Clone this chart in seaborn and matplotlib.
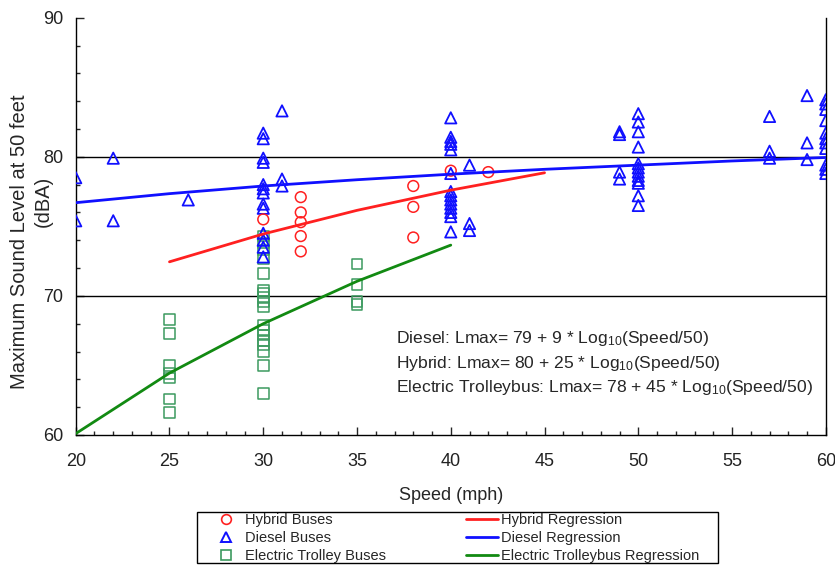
import numpy as np
import pandas as pd
import seaborn as sns
from matplotlib import pyplot as plt
from matplotlib.ticker import MultipleLocator
from matplotlib.lines import Line2D
from matplotlib.patches import Rectangle

hybrid_speed = [30, 32, 32, 32, 32, 32, 38, 38, 38, 40, 42]
hybrid_level = [75.5, 77.1, 76.0, 75.3, 74.3, 73.2, 77.9, 76.4, 74.2, 79.0, 78.9]

diesel_speed = ([20] * 2 + [22] * 2 + [26] + [30] * 13 + [31] * 3 + [40] * 14 + [41] * 3
                + [49] * 4 + [50] * 12 + [57] * 3 + [59] * 3 + [60] * 11)
diesel_level = [78.5, 75.4,
                79.9, 75.4,
                76.9,
                81.7, 81.3, 79.9, 79.6, 78.0, 77.7, 77.4, 76.6, 76.3, 74.5, 74.0, 73.5, 72.8,
                83.3, 78.4, 77.9,
                82.8, 81.4, 81.1, 80.9, 80.5, 78.8, 77.5, 77.2, 76.9, 76.6, 76.3, 76.0, 75.7, 74.6,
                79.4, 75.2, 74.7,
                81.8, 81.6, 78.9, 78.4,
                83.1, 82.5, 81.8, 80.7, 79.5, 79.2, 78.9, 78.6, 78.3, 78.1, 77.2, 76.5,
                82.9, 80.4, 79.9,
                84.4, 81.0, 79.8,
                84.1, 83.8, 83.4, 82.6, 81.7, 81.3, 81.0, 80.6, 79.4, 79.1, 78.8]

trolley_speed = [25] * 7 + [30] * 18 + [35] * 4
trolley_level = [68.3, 67.3, 65.0, 64.4, 64.1, 62.6, 61.6,
                 74.3, 73.8, 73.3, 72.7, 71.6, 70.4, 70.2, 69.9, 69.6, 69.2,
                 67.9, 67.5, 67.2, 66.8, 66.5, 66.0, 65.0, 63.0,
                 72.3, 70.8, 69.6, 69.4]

# regression curves as drawn (read at 5 mph steps)
diesel_reg_speed = [20, 25, 30, 35, 40, 45, 50, 55, 60]
diesel_reg_level = [76.7, 77.35, 77.9, 78.35, 78.75, 79.1, 79.4, 79.7, 79.95]
hybrid_reg_speed = [25, 30, 35, 40, 45]
hybrid_reg_level = [72.45, 74.45, 76.15, 77.6, 78.85]
trolley_reg_speed = [20, 25, 30, 35, 40]
trolley_reg_level = [60.1, 64.45, 68.0, 71.05, 73.65]

equations = [
    'Diesel: Lmax= 79 + 9 * Log$_{10}$(Speed/50)',
    'Hybrid: Lmax= 80 + 25 * Log$_{10}$(Speed/50)',
    'Electric Trolleybus: Lmax= 78 + 45 * Log$_{10}$(Speed/50)',
]

RED = '#ff2020'
BLUE = '#1010ff'
GREEN_PT = '#3c9a5f'
GREEN_LN = '#128a12'

sns.set_style('white')
plt.rcParams['font.family'] = ['Liberation Sans', 'DejaVu Sans']
plt.rcParams['mathtext.default'] = 'regular'

fig = plt.figure(figsize=(8.35, 5.65), dpi=100)
ax = fig.add_axes([0.0907, 0.2301, 0.8983, 0.7386])

sns.scatterplot(x=trolley_speed, y=trolley_level, marker='s', s=58, facecolor='none',
                edgecolor=GREEN_PT, linewidth=1.1, ax=ax, zorder=3)
sns.scatterplot(x=diesel_speed, y=diesel_level, marker='^', s=66, facecolor='none',
                edgecolor=BLUE, linewidth=1.3, ax=ax, zorder=3)
sns.scatterplot(x=hybrid_speed, y=hybrid_level, marker='o', s=60, facecolor='none',
                edgecolor=RED, linewidth=1.1, ax=ax, zorder=3)

sns.lineplot(x=hybrid_reg_speed, y=hybrid_reg_level, color=RED, lw=2, ax=ax, zorder=4)
sns.lineplot(x=diesel_reg_speed, y=diesel_reg_level, color=BLUE, lw=2, ax=ax, zorder=4)
sns.lineplot(x=trolley_reg_speed, y=trolley_reg_level, color=GREEN_LN, lw=2, ax=ax, zorder=4)

for yy in (70, 80):
    ax.axhline(yy, color='black', lw=1, zorder=1)

ax.set_xlim(20, 60)
ax.set_ylim(60, 90)
ax.xaxis.set_major_locator(MultipleLocator(5))
ax.xaxis.set_minor_locator(MultipleLocator(1))
ax.yaxis.set_major_locator(MultipleLocator(10))
ax.yaxis.set_minor_locator(MultipleLocator(2))
ax.tick_params(which='both', direction='in', labelsize=13, labelcolor='#222222',
               bottom=True, left=True, width=1)
ax.tick_params(axis='x', which='major', length=6, pad=13)
ax.tick_params(axis='y', which='major', length=6, pad=9)
ax.tick_params(which='minor', length=3)

for side in ('left', 'bottom', 'right'):
    ax.spines[side].set_color('black')
    ax.spines[side].set_linewidth(1)
ax.spines['top'].set_visible(False)

ax.set_xlabel('Speed (mph)', fontsize=13, labelpad=12)
ax.set_ylabel('Maximum Sound Level at 50 feet', fontsize=14.5)
ax.yaxis.label.set_va('center')
ax.yaxis.set_label_coords(-0.0756, 0.4625)
fig.text(43 / 835, 1 - 201 / 565, '(dBA)', rotation=90, fontsize=14.5,
         ha='center', va='center')

for i, eq in enumerate(equations):
    ax.text(37.1, 66.95 - i * 1.78, eq, fontsize=12.6, va='center', ha='left')

handles = [
    Line2D([], [], ls='none', marker='o', mfc='none', mec=RED, ms=7, mew=1.2),
    Line2D([], [], ls='none', marker='^', mfc='none', mec=BLUE, ms=7, mew=1.4),
    Line2D([], [], ls='none', marker='s', mfc='none', mec=GREEN_PT, ms=7, mew=1.2),
    Line2D([], [], color=RED, lw=2),
    Line2D([], [], color=BLUE, lw=2),
    Line2D([], [], color=GREEN_LN, lw=2),
]
labels = ['Hybrid Buses', 'Diesel Buses', 'Electric Trolley Buses',
          'Hybrid Regression', 'Diesel Regression', 'Electric Trolleybus Regression']
fig.legend(handles, labels, ncol=2, loc='upper left', bbox_to_anchor=(200 / 835, 1 - 503 / 565),
           fontsize=10.5, frameon=False,
           handlelength=2.2, handletextpad=0.2, columnspacing=5.5,
           labelspacing=0.26, borderpad=0.2)
fig.patches.append(Rectangle((197 / 835, 2 / 565), 521 / 835, 51 / 565, fill=False,
                             ec='black', lw=1, transform=fig.transFigure, figure=fig))

fig.savefig('out.png', dpi=100)
